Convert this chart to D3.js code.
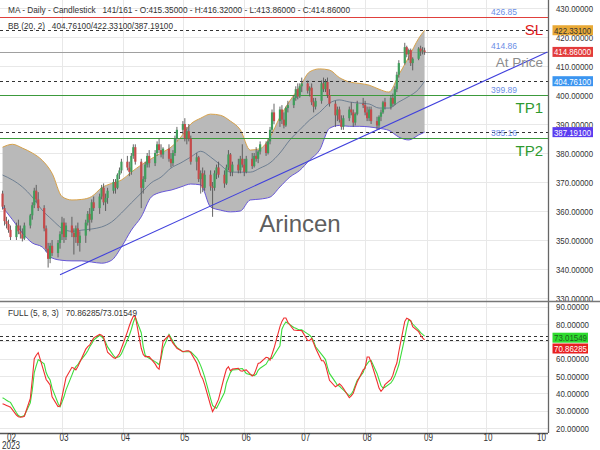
<!DOCTYPE html>
<html><head><meta charset="utf-8">
<script src="https://cdn.jsdelivr.net/npm/d3@7"></script>
<style>
html,body{margin:0;padding:0;background:#fff;}
svg{display:block;font-family:"Liberation Sans",Arial,sans-serif;}
</style></head><body>
<svg id="c" width="600" height="450"></svg>
<script>
// ---------- DATA ----------
const startDate = new Date(2023, 0, 30);
const endDate = new Date(2023, 8, 1);
const barDates = d3.timeDay.range(startDate, endDate).filter(d => d.getDay() !== 0 && d.getDay() !== 6);

const open = [
 366,361,356.5,355.5,353.5, 351,355,353,352,350.5, 355,358.5,362,367,364, 361,354,347,343.5,348,
 345.5,349,352,356,351, 355,352.5,351,354,349, 351.5,356,359,357,363, 361,365,368,363,364.5,
 367,370,368,372.5,374, 377,375,373.5,379,382, 377,368,371,376,379, 376.5,380,383,381,379.5,
 381.5,378,376.5,380,385, 388,390,385,387.5,385, 377,378.5,371,373,368, 372.5,368.5,368,373,375,
 372.5,369.5,375,379.5,373.5, 376,374,378,376,373.5, 378,375.5,379,378,380.5, 383,380,384,388,394,
 391,395,391.5,389.5,395.5, 396.5,399,402,399.5,403, 404,401.5,402.5,397.5,396, 398,404,402,404.5,400,
 397,393,395,391.5,389, 392,395,394,390.5,393.5, 397,396.5,394,392,395, 391,389.5,392.5,394,397.5,
 396,399,397,402,407, 411,416.5,414,415.5,411, 412.5,416,415,415.35];
const high = [
 367,362,358,357,355, 356,357,355,354,356, 359,363,368,369,366.5, 362,355,349,349,350,
 350,353,358,357.5,356, 358,354,355,356,353, 357,360,361,364,365, 366,369,369.5,366,368,
 371,371,373,375,378, 379,377,380,383,383, 378,372,377,380,381, 381,384,385,383,382,
 383,380,381,386,389, 391,392,389,390,386, 380,379,374,375,374, 374,370,374,376,377,
 374,376,381,380,377, 378,379,383,378,379, 380,380,382,381,384, 384,385,389,395,397,
 396,396.5,394,396,398, 400,403,404,404,406, 405,403,404,399,399, 405,406,405.5,406,402,
 398,396,396,393,393, 396,397.5,395,394,398, 399,398,396,396,396, 392.5,393,395,398,399,
 400,400.5,403,408,412, 418,417,416,416,413, 416.5,417,416.5,416.32];
const low = [
 360.5,355,354,352.5,350, 350,352,350.5,349.5,350, 354,357,361,363,360, 353,346,340.5,342,344.5,
 344,347,350,349,350, 351,345,349,348,346, 349,355,353,356,360, 359,364,362,360,362.5,
 366,366,367.5,371,373, 374,372,372.5,378,376, 361,366,370,375,375, 375.5,379,380,378.5,378,
 377,375,375.5,379,384, 386.5,384,383,384,376, 374,370,366,366.5,367, 367,358,367,371,371.5,
 368,369,374,372,372, 373,373,375,372,373, 374.5,375,377,376.5,379.5, 379,379.5,383,387,390,
 389,390,388.5,389,394, 395.5,398,398.5,399,401, 400.5,399.5,396.5,394,395, 397,401,401,399,396,
 389,391,390.5,388,388, 391,393,389,389.5,393, 395.5,393,391,391,390, 388,388,391,393.5,395,
 395,396,396.5,401,406, 410.5,413,412,410,408.5, 412,413.5,414,413.86];
const close = [
 361.5,356.5,355.5,353.5,351, 355,353,352,350.5,355, 358.5,362,367,364,361, 354,347,343.5,348,345.5,
 349,352,356,351,355, 352.5,351,354,349,351.5, 356,359,357,363,361, 365,368,363,364.5,367,
 370,368,372.5,374,377, 375,373.5,379,382,377, 368,371,376,379,376.5, 380,383,381,379.5,381.5,
 378,376.5,380,385,388, 390,385,387.5,385,377, 378.5,371,373,368,372.5, 368.5,368,373,375,372.5,
 369.5,375,379.5,373.5,376, 374,378,376,373.5,378, 375.5,379,378,380.5,383, 380,384,388,394,391,
 395,391.5,389.5,395.5,396.5, 399,402,399.5,403,404, 401.5,402.5,397.5,396,398, 404,402,404.5,400,397,
 393,395,391.5,389,392, 395,394,390.5,393.5,397, 396.5,394,392,395,391, 389.5,392.5,394,397.5,396,
 399,397,402,407,411, 416.5,414,415.5,411,412.5, 416,415,415.35,414.86];

// Bollinger Bands (20, 2), read every 5 calendar days from 2023-01-30, last point 2023-08-31
const bbUpper = [382,383,381.7,380,377.5,373,365,363.8,364,365,368,369.5,370.7,373.4,375.9,378,380,382,385.5,390,
 392,393.4,393,391,388,381,381.5,385.5,392.4,398,402.8,408,409,408.6,406,404.5,404,403.4,402,401,407,413,419.5,422.331];
const bbMiddle = [372.4,370.7,368.3,364.8,360.3,357,354,353,353.4,353.8,354.5,356.2,359.3,362.8,366.2,369.7,371.7,374.8,376.6,378.6,
 380.6,378.6,375.9,373.4,373.4,373.4,374.8,376.6,380,384.5,388,391.4,394,397.2,398.3,397.6,397.2,396.9,395.5,395.5,397.6,399.5,402,404.761];
const bbLower = [361.4,357,352.4,349,347.6,343.8,343,342.8,342.8,342.4,342,343,347.6,353.4,358,364.8,366.5,367.2,368.3,369.3,
 369,361.4,360.3,359.7,360,363.8,364.1,364.8,368.3,371.7,374,377.6,381,388.5,389.5,389.2,389.2,389,388.5,387.8,385.5,384.5,386.2,387.191];

// Full stochastic (5, 8, 3) per bar
const stochK = [
 34,33.5,33,32.5,32, 27.5,26.5,26.2,26.4,26.8, 37,48,60,62,63.5, 52,48,46.5,44.8,38,
 32.4,32.7,38,43.5,49, 55,54.5,53.5,55.5,58, 65.5,67,67.9,70,72, 74,73.6,72.5,68,63.7,
 60.5,60.2,61.5,63,66, 75.5,79,82,84.5,84.5, 66,62.5,61.2,61.2,61.2, 57,55,54,62,70,
 73.5,71,69,67.5,66, 64,64.3,64.5,64.5,63.5, 57.5,54,50.5,48.5,45, 33,29.5,31.5,34,36.5,
 50,54,55.4,53,54, 54.5,53,52.8,53.3,53.5, 50,51,54,57.3,57.7, 60.8,60.5,59.2,62.5,66,
 78.5,81.5,83.5,83.5,81, 76.5,76.4,76.3,76.3,76.2, 70.5,70.5,71.7,69,66, 58.8,58.8,56.5,52,47.5,
 43.8,44.5,45.5,44.5,42.9, 37.5,38.5,40,43.5,46.5, 53.5,54.5,61,61,58, 47,43,41.2,42.5,45,
 48,50.5,54.5,57.5,64, 81.5,83.3,82.8,82,78.5, 75.6,73.5,72,70.86285];
const stochD = [
 37.5,36.8,36,35.3,34.8, 28.8,27.2,26.5,26.8,27.2, 34.5,42,52,56,59.5, 57,52,49.5,47.7,43,
 34.3,32.3,35,38,42, 50.5,53.5,55.4,56.5,58.5, 62.8,64.6,66.9,68.6,70.8, 73.5,72.7,71.5,69.5,66.8,
 61.8,60.6,60.8,61.2,62.8, 70.8,73.5,77,81,84, 75,67,62,61,60.3, 58.3,57.5,56.5,60,66,
 74,72,70,68,66.5, 64,64,64,64,64, 60.5,58.5,56,53,49.5, 37,33,32,31.4,33.5,
 40.5,46,49,52,53.5, 53.8,54.2,54.3,53,51.5, 50.5,50.2,51,53.3,54.5, 56.8,58.8,60.2,60.2,62,
 67.5,77,79.5,81.2,80.5, 78,77.5,77,76.6,76.7, 74.3,73.5,72.3,70,66.9, 62.5,61,59.5,55,51.5,
 46.5,44.6,44.2,43,42, 38.6,39.5,41.5,44.5,47.5, 52,55.4,57,58.5,59, 51.5,48,44.5,43,43.5,
 46,47.7,50,53,56.5, 72,78,82.5,81.8,80, 76.5,75,74,73.01549];

// Price levels
const levelValues = [426.85, 414.86, 399.89, 385.16];
const levelLabels = ["426.85", "414.86", "399.89", "385.16"];
const levelTags = ["SL", "At Price", "TP1", "TP2"];
const levelColors = ["#e0403c", "#a0a0a0", "#3c9a3c", "#3c9a3c"];
const tagColors = ["#e02020", "#8c8c8c", "#2f9a2f", "#2f9a2f"];
const bbLevelValues = [422.331, 404.761, 387.191];
const bbBoxColors = ["#e9a936", "#3b95f0", "#5b3cf0"];
const bbBoxText = ["#333", "#fff", "#fff"];
const trendDates = [new Date(2023, 1, 28), new Date(2023, 10, 1)];
const trendValues = [338.0, 414.8];
const priceTicks = [330, 340, 350, 360, 370, 380, 390, 400, 410, 420, 430];
const stochGridTicks = [20, 30, 40, 50, 60, 70, 80, 90];
const stochLabelTicks = [20, 30, 40, 50, 60, 80, 90];
const monthTickDates = ["2023-02-01","2023-03-01","2023-04-01","2023-05-01","2023-06-01","2023-07-01","2023-08-01","2023-09-01","2023-10-01","2023-10-28"];
const monthTickLabels = ["02","03","04","05","06","07","08","09","10","10"];
const lastPrice = 414.86;
const lastK = 70.86285, lastD = 73.01549;

// ---------- LAYOUT ----------
const svg = d3.select("#c");
const plotR = 548, mainBot = 301, stBot = 433;
const x = d3.scaleTime().domain([new Date(2023, 2, 1), new Date(2023, 9, 1)]).range([62, 486]);
const y = d3.scaleLinear().domain([330, 430]).range([298, 8]);
const ys = d3.scaleLinear().domain([20, 90]).range([428, 306.7]);
const bbDates = d3.range(bbUpper.length - 1).map(k => d3.timeDay.offset(startDate, 5 * k)).concat([new Date(2023, 7, 31)]);
const fmt5 = d3.format(".5f");

const defs = svg.append("defs");
defs.append("clipPath").attr("id", "cm").append("rect").attr("x", 0).attr("y", 0).attr("width", plotR).attr("height", mainBot);
defs.append("clipPath").attr("id", "cs").append("rect").attr("x", 0).attr("y", mainBot).attr("width", plotR).attr("height", stBot - mainBot);
defs.append("clipPath").attr("id", "cam").append("rect").attr("x", plotR).attr("y", 0).attr("width", 52).attr("height", mainBot);
defs.append("clipPath").attr("id", "cas").append("rect").attr("x", plotR).attr("y", mainBot).attr("width", 52).attr("height", stBot - mainBot);

function narrowText(g, xx, yy, str, len, size, col) {
  return g.append("text").attr("x", xx).attr("y", yy).attr("font-size", size).attr("fill", col)
    .attr("textLength", len).attr("lengthAdjust", "spacingAndGlyphs").text(str);
}

// grid
const grid = svg.append("g").attr("stroke", "#e8e8e8").attr("stroke-width", 1);
priceTicks.forEach(v => grid.append("line").attr("x1", 0).attr("x2", plotR).attr("y1", Math.round(y(v)) + 0.5).attr("y2", Math.round(y(v)) + 0.5));
stochGridTicks.forEach(v => grid.append("line").attr("x1", 0).attr("x2", plotR).attr("y1", Math.round(ys(v)) + 0.5).attr("y2", Math.round(ys(v)) + 0.5));
monthTickDates.slice(1, 9).forEach(s => {
  const xx = Math.round(x(new Date(s + "T00:00"))) + 0.5;
  grid.append("line").attr("x1", xx).attr("x2", xx).attr("y1", 0).attr("y2", stBot);
});

// main panel
const gm = svg.append("g").attr("clip-path", "url(#cm)");
const bbIdx = d3.range(bbUpper.length);
gm.append("path").datum(bbIdx)
  .attr("d", d3.area().x(i => x(bbDates[i])).y0(i => y(bbLower[i])).y1(i => y(bbUpper[i])).curve(d3.curveMonotoneX))
  .attr("fill", "#b9b9b9");
gm.append("path").datum(bbIdx).attr("fill", "none").attr("stroke", "#d8a24a").attr("stroke-width", 1)
  .attr("d", d3.line().x(i => x(bbDates[i])).y(i => y(bbUpper[i])).curve(d3.curveMonotoneX));
gm.append("path").datum(bbIdx).attr("fill", "none").attr("stroke", "#6656d8").attr("stroke-width", 1)
  .attr("d", d3.line().x(i => x(bbDates[i])).y(i => y(bbLower[i])).curve(d3.curveMonotoneX));
gm.append("path").datum(bbIdx).attr("fill", "none").attr("stroke", "#5b7088").attr("stroke-width", 0.8)
  .attr("d", d3.line().x(i => x(bbDates[i])).y(i => y(bbMiddle[i])).curve(d3.curveMonotoneX));

// levels
levelValues.forEach((v, i) => {
  gm.append("line").attr("x1", 0).attr("x2", plotR).attr("y1", Math.round(y(v)) + 0.5).attr("y2", Math.round(y(v)) + 0.5)
    .attr("stroke", levelColors[i]).attr("stroke-width", 1);
});
bbLevelValues.forEach(v => {
  gm.append("line").attr("x1", 0).attr("x2", plotR).attr("y1", Math.round(y(v)) + 0.5).attr("y2", Math.round(y(v)) + 0.5)
    .attr("stroke", "#333").attr("stroke-width", 1).attr("stroke-dasharray", "3,3");
});

// candles
const cg = gm.append("g");
barDates.forEach((d, i) => {
  const cx = x(d);
  const up = close[i] >= open[i];
  cg.append("line").attr("x1", cx).attr("x2", cx).attr("y1", y(high[i])).attr("y2", y(low[i]))
    .attr("stroke", "#555").attr("stroke-width", 0.9);
  const top = y(Math.max(open[i], close[i])), bot = y(Math.min(open[i], close[i]));
  cg.append("rect").attr("x", cx - 1.1).attr("width", 2.2).attr("y", top).attr("height", Math.max(0.8, bot - top))
    .attr("fill", up ? "#3f9e5c" : "#c64a4a");
});

// trend line
gm.append("line").attr("x1", x(trendDates[0])).attr("y1", y(trendValues[0])).attr("x2", x(trendDates[1])).attr("y2", y(trendValues[1]))
  .attr("stroke", "#4040dd").attr("stroke-width", 1.1);

// level labels
levelValues.forEach((v, i) => {
  narrowText(gm, 491, y(v) - 2.5, levelLabels[i], 26, 9.5, "#6b8ee6");
  gm.append("text").attr("x", 543).attr("y", y(v) + (i === 1 ? 15 : 17.5)).attr("text-anchor", "end")
    .attr("font-size", i === 1 ? 13.5 : 15).attr("fill", tagColors[i]).text(levelTags[i]);
});

// watermark
svg.append("text").attr("x", 300).attr("y", 232).attr("text-anchor", "middle")
  .attr("font-size", 24).attr("fill", "#5e5e5e").text("Arincen");

// stochastic panel
const gs = svg.append("g").attr("clip-path", "url(#cs)");
[lastD, lastK].forEach(v => gs.append("line").attr("x1", 0).attr("x2", plotR).attr("y1", Math.round(ys(v)) + 0.5).attr("y2", Math.round(ys(v)) + 0.5)
  .attr("stroke", "#333").attr("stroke-dasharray", "3,3"));
const sIdx = d3.range(barDates.length);
gs.append("path").datum(sIdx).attr("fill", "none").attr("stroke", "#3ddc3d").attr("stroke-width", 1.1)
  .attr("d", d3.line().x(i => x(barDates[i])).y(i => ys(stochD[i])));
gs.append("path").datum(sIdx).attr("fill", "none").attr("stroke", "#f03030").attr("stroke-width", 1.1)
  .attr("d", d3.line().x(i => x(barDates[i])).y(i => ys(stochK[i])));

// frames
svg.append("line").attr("x1", plotR + 0.5).attr("x2", plotR + 0.5).attr("y1", 0).attr("y2", stBot).attr("stroke", "#666").attr("stroke-width", 1.3);
svg.append("line").attr("x1", 0).attr("x2", 600).attr("y1", mainBot + 0.5).attr("y2", mainBot + 0.5).attr("stroke", "#777").attr("stroke-width", 1.3);
svg.append("line").attr("x1", 0).attr("x2", plotR).attr("y1", stBot + 0.5).attr("y2", stBot + 0.5).attr("stroke", "#555").attr("stroke-width", 1.3);

// right axis labels
const am = svg.append("g").attr("clip-path", "url(#cam)");
priceTicks.forEach(v => narrowText(am, 556, y(v) + 3.5, fmt5(v), 37, 9.2, "#333"));
const as = svg.append("g").attr("clip-path", "url(#cas)");
stochLabelTicks.forEach(v => narrowText(as, 556, ys(v) + 3.5, fmt5(v), 33, 9.2, "#333"));

function box(g, cy, fill, tcol, label, w, tl) {
  g.append("rect").attr("x", 552.5).attr("y", cy - 5).attr("width", w).attr("height", 10).attr("fill", fill);
  narrowText(g, 554, cy + 3.5, label, tl, 9.2, tcol);
}
bbLevelValues.forEach((v, i) => box(am, y(v), bbBoxColors[i], bbBoxText[i], fmt5(v), 40.5, 37));
box(am, y(lastPrice), "#e23b3b", "#fff", fmt5(lastPrice), 40.5, 37);
box(as, 337.7, "#2fdc2f", "#1d5e1d", fmt5(lastD), 35.5, 33);
box(as, 348.5, "#e82020", "#fff", fmt5(lastK), 35.5, 33);

// x axis labels
monthTickDates.forEach((s, i) => {
  const xx = x(new Date(s + "T00:00")) + 2;
  narrowText(svg, (i === 0 ? 11.5 : xx) - 4.5, 440.5, monthTickLabels[i], 9, 10, "#333");
});
narrowText(svg, 2, 449, "2023", 18, 10, "#333");

// headers
narrowText(svg, 8, 12.5, "MA - Daily - Candlestick   141/161 - O:415.35000 - H:416.32000 - L:413.86000 - C:414.86000", 342, 9.3, "#333")
  .attr("xml:space", "preserve");
narrowText(svg, 8, 28.5, "BB (20, 2)   404.76100/422.33100/387.19100", 165, 9.3, "#333").attr("xml:space", "preserve");
narrowText(svg, 8, 315.5, "FULL (5, 8, 3)   70.86285/73.01549", 129, 9.3, "#333").attr("xml:space", "preserve");
</script>
</body></html>
